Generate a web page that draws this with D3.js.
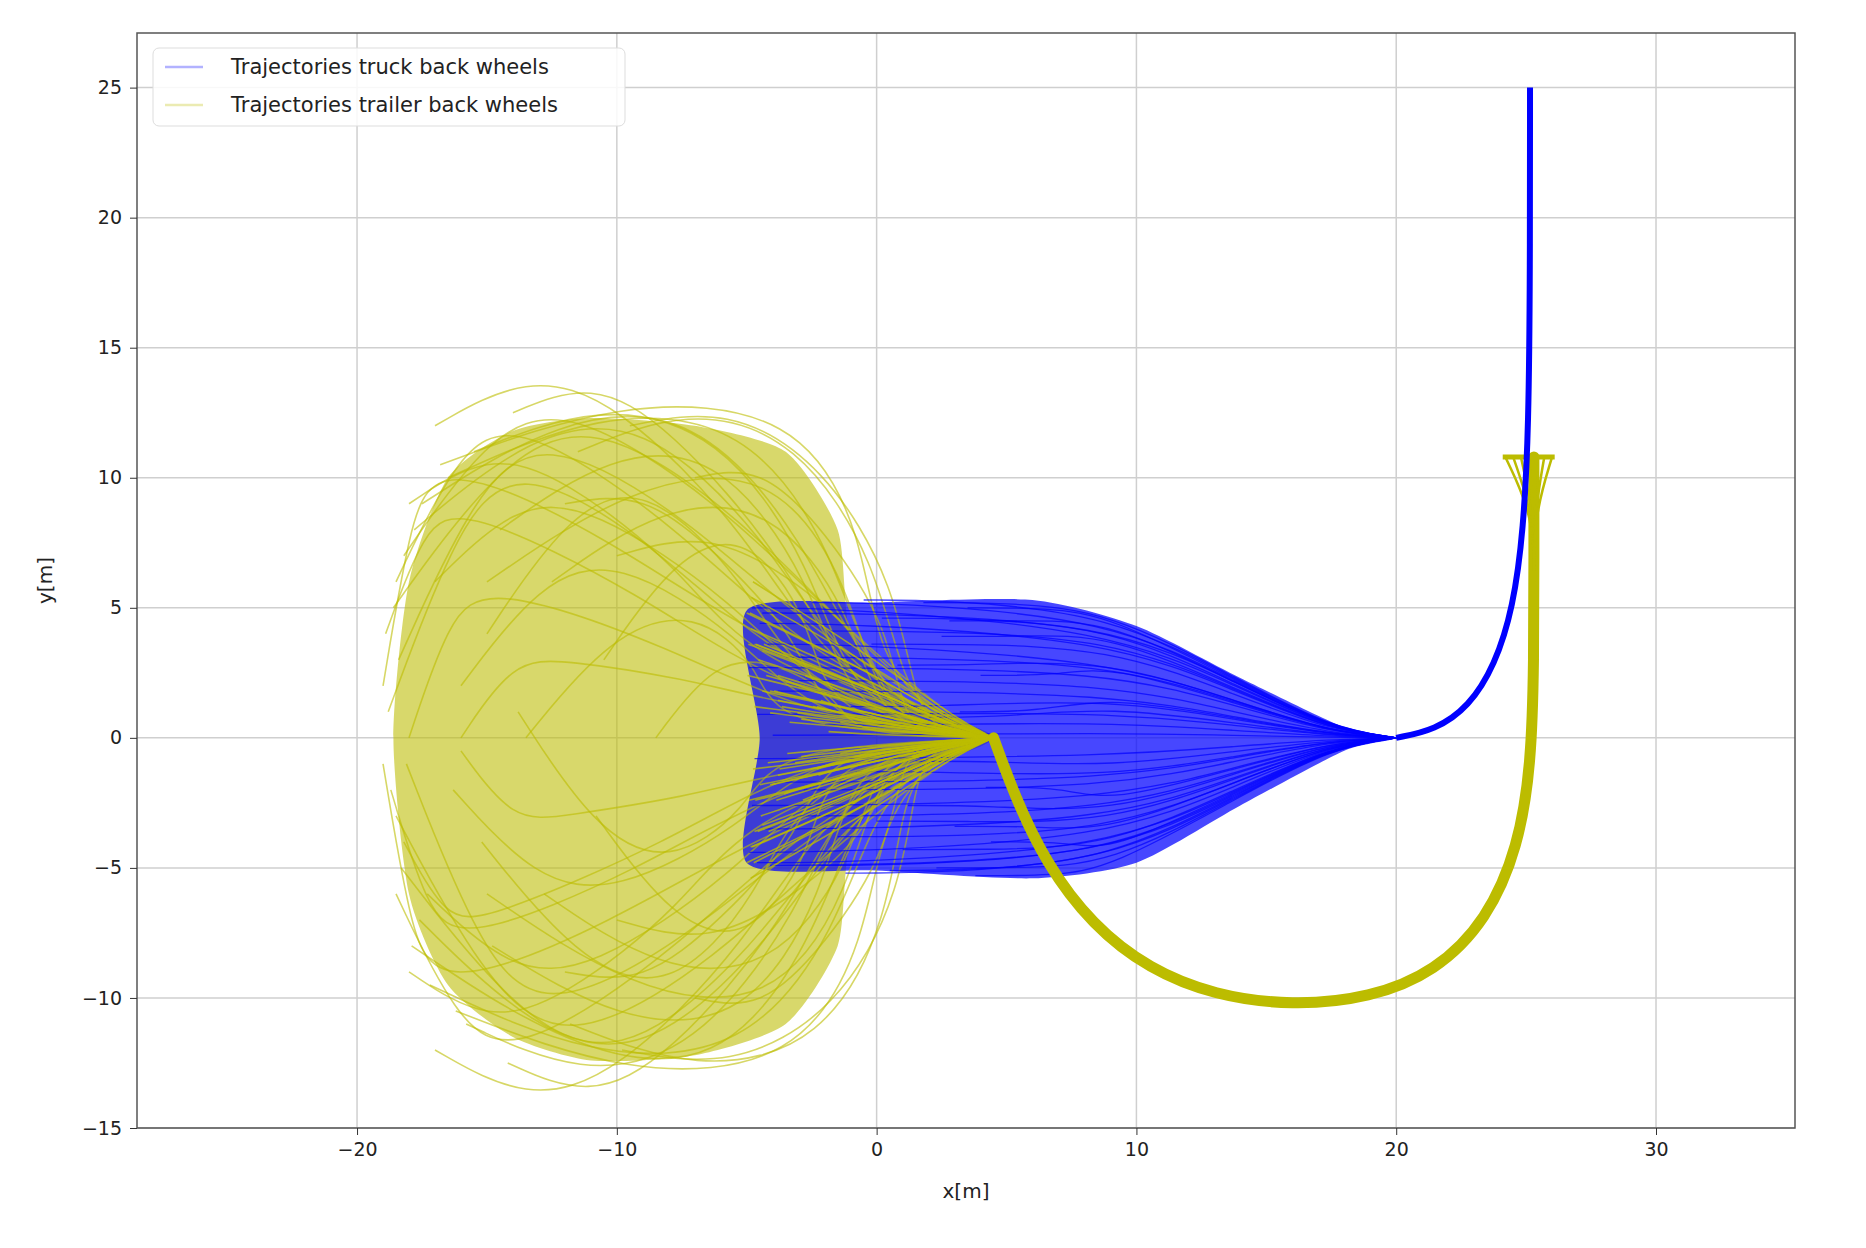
<!DOCTYPE html>
<html><head><meta charset="utf-8">
<script src="https://cdn.jsdelivr.net/npm/d3@7"></script>
<style>body{margin:0;background:#fff}text{font-family:"DejaVu Sans",sans-serif}</style>
</head><body><svg id="c" width="1866" height="1248"></svg>
<script>
const xTicks = [-20, -10, 0, 10, 20, 30];
const yTicks = [-15, -10, -5, 0, 5, 10, 15, 20, 25];
const legendLabels = ["Trajectories truck back wheels", "Trajectories trailer back wheels"];

// truck runs: [startX, startY, midY] -> all meet at (20,0)
const truckRuns = [
  [-4.8,5.0,4.2],[-4.5,4.4,3.8],[-4.2,3.6,3.0],[-4.9,2.7,2.6],[-3.8,1.8,1.7],[-4.6,0.9,1.0],
  [-4.0,0.1,0.2],[-4.7,-0.8,-0.7],[-3.9,-1.7,-1.6],[-4.8,-2.6,-2.4],[-4.3,-3.5,-3.2],[-4.9,-4.4,-3.9],
  [-4.6,-4.8,-4.3],[-2.5,5.2,4.6],[-1.8,4.1,3.9],[-2.2,-4.9,-4.5],[-1.5,-3.8,-3.6],[-0.5,5.3,4.8],
  [0.2,4.6,4.3],[0.5,-5.1,-4.7],[1.0,-4.3,-4.2],[1.8,5.2,4.9],[2.5,3.9,4.0],[2.3,-5.0,-4.9],
  [3.0,-3.4,-3.6],[3.5,5.0,4.7],[3.8,-5.3,-5.0],[4.0,2.4,2.8],[4.2,-1.9,-2.5],[-3.0,2.2,2.1],
  [-2.8,-2.0,-1.9],[-1.0,1.2,1.5],[-0.8,-1.3,-1.5],[0.8,2.8,3.0],[1.2,-2.6,-2.9],[-3.5,3.1,2.9],
  [-3.2,-3.0,-2.8],[2.0,0.8,1.2],[1.5,-0.9,-1.1],[-2.0,0.5,0.6],[3.2,1.0,1.6],[0.0,-3.2,-3.3],
  [-4.4,4.8,4.5],[-4.1,-4.9,-4.6],[2.8,4.5,4.5],[4.4,-4.0,-4.4],[-0.2,3.6,3.5],[-1.2,-5.2,-4.8]
];
const truckTail = [[20,0],[21.5,0.3],[22.8,1.2],[23.8,2.8],[24.5,5],[24.9,8],[25.1,12],[25.15,18],[25.15,25]];
// outline of the dense truck fan
const truckFan = [[-5,4.9],[0,5.2],[6,5.3],[10,4.3],[14,2.3],[18,0.4],[20,0],[18,-0.5],[14,-2.6],[10,-4.8],[6,-5.4],[0,-5.1],[-5,-4.8],[-4.5,0]];

// trailer runs: [startX, startY, apexX, apexY, exitX, exitY] -> all meet at (4.5,0)
const trailerRuns = [
  [-18.2,7,-12,13,-2,5],[-18.6,5,-11,12.6,-1,4],[-17.8,8,-9,12.4,-1.5,3],[-18.4,3,-13,12,-3,4.5],
  [-18.8,1,-14,11,-4,3],[-18.1,-1,-13,-11,-3,-4],[-18.5,-3,-12,-12.2,-2,-4.5],[-18.3,-5,-10,-12.8,-1.5,-3.5],
  [-17.6,-7,-9,-12.5,-1,-3],[-17.9,-8,-6,-13,-0.5,-2],[-17.5,9,-7,12.7,-0.5,2.5],[-17.2,-9.5,-5,-12.2,0,-2.5],
  [-16.5,10,-5,12.2,-0.2,2],[-16.8,10.5,-3,12.6,0,3],[-16.2,-10.5,-3,-12.6,0.2,-3],[-15.5,11,-6,11.8,-1,1.5],
  [-15.8,-11,-7,-12.1,-1,-1.5],[-18.9,4,-16,9,-4,2],[-18.7,-2,-16,-8,-4,-2],[-18.0,0,-15,6,-3,1],
  [-18.2,-4,-15,-7,-3,-1],[-17.0,6,-11,9,-2,1.5],[-17.3,-6,-11,-9,-2,-1.5],[-16.0,2,-10,7,-2.5,0.8],
  [-16.3,-2,-10,-6,-2.5,-0.8],[-15.0,4,-9,10,-3,2],[-15.2,-4,-8,-10,-3,-2],[-14.5,8,-6,11,-1,1],
  [-14.8,-8,-5,-11,-1,-1],[-13.5,0,-7,5,-4,0.5],[-13.8,1,-8,-5,-4,-0.5],[-12.5,6,-4,9,0,0.8],
  [-12.8,-6,-4,-9,0,-0.8],[-11.5,11,-3,11.5,1,2],[-11.8,-11,-2,-11.8,1,-2],[-10.5,3,-5,8,-2,1],
  [-10.8,-3,-5,-8,-2,-1],[-9.5,12,-2,10.5,1.5,1.2],[-9.8,-12,-1.5,-10.5,1.5,-1.2],[-8.5,0,-4,3,-1,0.2],
  [-19.0,2,-17,11,-5,4],[-19.0,-1,-17,-10,-5,-4],[-17.0,12,-10,13,-2,2.8],[-17.0,-12,-10,-13,-2,-2.8],
  [-14.0,12.5,-8,12,-1,1.8],[-14.2,-12.5,-8,-12.3,-1,-1.8],[-18.0,9,-12,10,-5,3],[-18.0,-9,-12,-10,-5,-3],
  [-16.0,0,-12,3,-4.5,1.5],[-16.0,-0.5,-12,-3,-4.5,-1.5],[-12.0,9,-6,7,-2,0.6],[-12.0,-9,-6,-7,-2,-0.6],
  [-10.0,7,-3,6,0.5,1],[-10.0,-7,-3,-6,0.5,-1],[-7.0,10,-2,8,1,0.5],[-7.0,-10,-2,-8,1,-0.5],
  [-18.5,6,-14,12.5,-3,3.5],[-18.5,-6,-14,-12.5,-3,-3.5],[-15.0,6,-4,10.5,0,1.2],[-15.0,-6,-4,-10.5,0,-1.2]
];
const trailerTail = [[4.5,0],[5.3,-2.2],[6.5,-4.8],[8.3,-7.2],[10.5,-8.9],[13,-9.9],[16,-10.3],[19,-10],[21.5,-9],[23.5,-7],[24.7,-4.2],[25.2,-1],[25.3,3],[25.3,7],[25.3,10.8]];
const trailerFanX = [24.2, 24.5, 24.8, 25.1, 25.4, 25.7, 26.0];
// outline of the dense trailer cloud (inner core)
const trailerCore = [[-18,6],[-16.5,10],[-14,11.8],[-11,12.3],[-7,12],[-3.5,11],[-1.5,8],[-1,4],[1,1.5],[4.5,0],[1,-1.5],[-1,-4],[-1.5,-8],[-3.5,-11],[-7,-12.2],[-11,-12.4],[-14,-11.5],[-16.5,-9.5],[-18,-6],[-18.6,0]];

const svg = d3.select("#c");
const L = 137, R = 1795, T = 33, B = 1128;
const x = d3.scaleLinear().domain([-28.47, 35.35]).range([L, R]);
const y = d3.scaleLinear().domain([-15, 27.1]).range([B, T]);
const line = d3.line().x(d => x(d[0])).y(d => y(d[1])).curve(d3.curveBasis);
const area = d3.line().x(d => x(d[0])).y(d => y(d[1])).curve(d3.curveCardinalClosed.tension(0.3));

// grid
svg.append("g").selectAll("line").data(xTicks).join("line")
  .attr("x1", d => x(d)).attr("x2", d => x(d)).attr("y1", T).attr("y2", B)
  .attr("stroke", "#cfcfcf").attr("stroke-width", 1.5);
svg.append("g").selectAll("line").data(yTicks).join("line")
  .attr("x1", L).attr("x2", R).attr("y1", d => y(d)).attr("y2", d => y(d))
  .attr("stroke", "#cfcfcf").attr("stroke-width", 1.5);

const plot = svg.append("g");
const yellow = "#bcbc00";

// dense regions
plot.append("path").attr("d", area(trailerCore)).attr("fill", yellow).attr("fill-opacity", 0.58);
plot.append("path").attr("d", area(truckFan)).attr("fill", "blue").attr("fill-opacity", 0.72);

// trailer trajectories
trailerRuns.forEach(r => {
  const pts = [[r[0], r[1]], [(r[0] + r[2]) / 2, (r[1] + r[3]) / 2 + (r[3] > 0 ? 1.5 : -1.5)], [r[2], r[3]],
    [(r[2] + r[4]) / 2 + 1, (r[3] + r[5]) / 2], [r[4], r[5]], [2.5, r[5] * 0.2], [4.5, 0]];
  plot.append("path").attr("d", line(pts)).attr("fill", "none")
    .attr("stroke", yellow).attr("stroke-opacity", 0.6).attr("stroke-width", 1.6);
});
// truck trajectories
truckRuns.forEach(r => {
  const pts = [[r[0], r[1]], [r[0] + 3, r[1]], [9, r[2]], [14, r[2] * 0.45], [17.5, r[2] * 0.08], [20, 0]];
  plot.append("path").attr("d", line(pts)).attr("fill", "none")
    .attr("stroke", "blue").attr("stroke-opacity", 0.7).attr("stroke-width", 1.3);
});
// trailer fingers from start region
trailerRuns.forEach(r => {
  const pts = [[-5 + (r[0] + 19) * 0.3, r[5] * 1.2], [0, r[5] * 0.6], [3, r[5] * 0.15], [4.5, 0]];
  plot.append("path").attr("d", line(pts)).attr("fill", "none")
    .attr("stroke", yellow).attr("stroke-opacity", 0.75).attr("stroke-width", 1.6);
});
// common trailer band
plot.append("path").attr("d", line(trailerTail)).attr("fill", "none")
  .attr("stroke", yellow).attr("stroke-width", 11).attr("stroke-linecap", "round");
trailerFanX.forEach(fx => {
  plot.append("path").attr("d", line([[25.3, 6], [25.3, 8.5], [fx, 10.8]])).attr("fill", "none")
    .attr("stroke", yellow).attr("stroke-width", 2.5);
});
plot.append("line").attr("x1", x(24.1)).attr("x2", x(26.1)).attr("y1", y(10.8)).attr("y2", y(10.8))
  .attr("stroke", yellow).attr("stroke-width", 5);
// common truck band
plot.append("path").attr("d", line(truckTail)).attr("fill", "none")
  .attr("stroke", "blue").attr("stroke-width", 6);

// frame
svg.append("rect").attr("x", L).attr("y", T).attr("width", R - L).attr("height", B - T)
  .attr("fill", "none").attr("stroke", "#555").attr("stroke-width", 1.5);

// axes
const xa = svg.append("g").attr("transform", `translate(0,${B})`)
  .call(d3.axisBottom(x).tickValues(xTicks).tickSize(7).tickPadding(8).tickFormat(d => d < 0 ? "\u2212" + (-d) : d));
const ya = svg.append("g").attr("transform", `translate(${L},0)`)
  .call(d3.axisLeft(y).tickValues(yTicks).tickSize(7).tickPadding(8).tickFormat(d => d < 0 ? "\u2212" + (-d) : d));
[xa, ya].forEach(a => {
  a.select(".domain").remove();
  a.selectAll("text").attr("font-size", 19).attr("fill", "#222");
  a.selectAll("line").attr("stroke", "#333");
});
svg.append("text").attr("x", (L + R) / 2).attr("y", 1198).attr("text-anchor", "middle")
  .attr("font-size", 20).attr("fill", "#222").text("x[m]");
svg.append("text").attr("transform", `translate(52,${(T + B) / 2}) rotate(-90)`)
  .attr("text-anchor", "middle").attr("font-size", 20).attr("fill", "#222").text("y[m]");

// legend
const lg = svg.append("g").attr("transform", "translate(153,48)");
lg.append("rect").attr("width", 472).attr("height", 78).attr("rx", 6)
  .attr("fill", "#fff").attr("fill-opacity", 0.85).attr("stroke", "#ddd");
const legendColors = ["blue", yellow];
legendLabels.forEach((t, i) => {
  const yy = 19 + i * 38;
  lg.append("line").attr("x1", 12).attr("x2", 50).attr("y1", yy).attr("y2", yy)
    .attr("stroke", legendColors[i]).attr("stroke-opacity", 0.3).attr("stroke-width", 2.5);
  lg.append("text").attr("x", 78).attr("y", yy + 7).attr("font-size", 21).attr("fill", "#222").text(t);
});
</script></body></html>
